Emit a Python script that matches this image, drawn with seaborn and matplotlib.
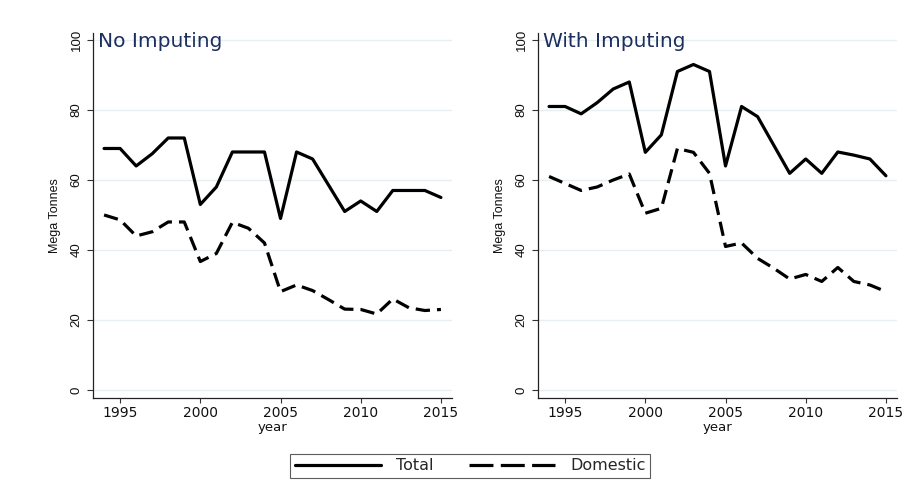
import numpy as np
import pandas as pd
import matplotlib
matplotlib.use("Agg")
import matplotlib.pyplot as plt
import seaborn as sns
from matplotlib.lines import Line2D

years = list(range(1994, 2016))
no_imp_total = [69, 69, 64, 67.5, 72, 72, 53, 58, 68, 68, 68, 49, 68, 66, 58.5, 51, 54, 51, 57, 57, 57, 55]
no_imp_domestic = [50, 48.6, 44, 45.2, 48, 48, 36.7, 39, 47.9, 46.2, 42, 28.1, 30, 28.4, 25.8, 23.1, 23, 21.7, 26, 23.5, 22.7, 23]
imp_total = [81, 81, 78.9, 82.1, 86, 88, 67.9, 72.9, 91, 93, 91, 64, 81, 78.1, 70, 61.9, 66, 61.9, 68, 67.1, 66, 61.2]
imp_domestic = [61, 59, 57, 58, 60, 61.7, 50.5, 51.9, 69, 67.9, 61.9, 41, 42, 37.6, 34.8, 31.7, 33, 31, 35, 31, 30, 28.1]
panel_titles = ["No Imputing", "With Imputing"]
series_names = ["Total", "Domestic"]
xticks = [1995, 2000, 2005, 2010, 2015]
yticks = [0, 20, 40, 60, 80, 100]

sns.set_theme(style="white")
plt.rcParams['font.family'] = ['Liberation Sans', 'DejaVu Sans']
WIDE = ['DejaVu Sans']

fig = plt.figure(figsize=(9.07, 5.0), dpi=100)
fig.patch.set_facecolor("white")

ax_pos = [[93/907, 1-398/500, (452-93)/907, (398-33)/500],
          [538/907, 1-398/500, (897-538)/907, (398-33)/500]]

panels = [(no_imp_total, no_imp_domestic), (imp_total, imp_domestic)]
grid_col = "#e6eff1"
title_col = "#1c2f5e"

for i, (tot, dom) in enumerate(panels):
    ax = fig.add_axes(ax_pos[i])
    df = pd.DataFrame({
        "year": years * 2,
        "value": tot + dom,
        "series": [series_names[0]] * len(years) + [series_names[1]] * len(years),
    })
    for yt in yticks:
        ax.axhline(yt, color=grid_col, lw=1.0, zorder=0)
    sns.lineplot(data=df, x="year", y="value", style="series",
                 dashes={"Total": "", "Domestic": (4.5, 2.2)},
                 color="black", lw=2.3, ax=ax, legend=False)
    ax.set_xlim(1993.31, 2015.69)
    ax.set_ylim(-2.3, 102)
    ax.set_xticks(xticks)
    ax.set_yticks(yticks)
    ax.set_xticklabels([str(x) for x in xticks], fontsize=10, family=WIDE, color="#111111")
    ax.set_yticklabels([str(y) for y in yticks], fontsize=9.5, rotation=90, va="center", color="#111111")
    ax.tick_params(axis="x", direction="out", length=3.6, width=0.8, color="#333333",
                   bottom=True, pad=2)
    ax.tick_params(axis="y", direction="out", length=4.4, width=0.8, color="#333333",
                   left=True, pad=3)
    for s in ["top", "right"]:
        ax.spines[s].set_visible(False)
    for s in ["left", "bottom"]:
        ax.spines[s].set_color("#222222")
        ax.spines[s].set_linewidth(0.9)
    ax.set_xlabel("year", fontsize=9.5, family=WIDE, labelpad=1, color="#111111")
    ax.set_ylabel("Mega Tonnes", fontsize=9, labelpad=7, color="#111111")
    ax.set_facecolor("white")
    ax.text(0.014, 0.977, panel_titles[i], transform=ax.transAxes, fontsize=14.5,
            family=WIDE, color=title_col, ha="left", va="center")

handles = [Line2D([0], [0], color="black", lw=2.3),
           Line2D([0], [0], color="black", lw=2.3, dashes=(7.5, 2.3))]
leg = fig.legend(handles, series_names, loc="center", bbox_to_anchor=(470/907, 1-466/500),
                 ncol=2, frameon=True, prop={"family": WIDE, "size": 11.5},
                 handlelength=5.4, columnspacing=2.2, handletextpad=0.95,
                 fancybox=False, borderpad=0.3)
leg.get_frame().set_edgecolor("#333333")
leg.get_frame().set_linewidth(0.8)

fig.savefig("out.png", dpi=100, facecolor="white")
